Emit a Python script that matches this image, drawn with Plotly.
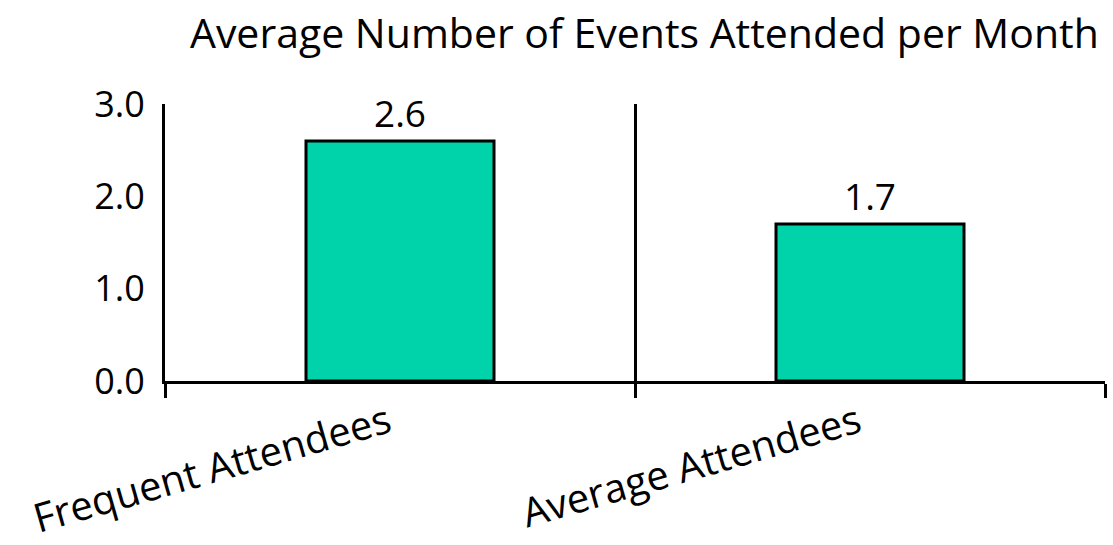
import plotly.graph_objects as go

# Monthly event attendance by attendee group
categories = ["Frequent Attendees", "Average Attendees"]
avg_events = [2.6, 1.7]
y_ticks = [0, 1, 2, 3]

FONT = "Open Sans"
BAR_COLOR = "#00D2AA"

fig = go.Figure(
    go.Bar(
        x=categories,
        y=avg_events,
        width=0.4,
        marker=dict(color=BAR_COLOR, line=dict(color="black", width=3)),
        text=[f"{v:.1f}" for v in avg_events],
        textposition="outside",
        textfont=dict(family=FONT, size=37, color="black"),
        cliponaxis=False,
    )
)

fig.update_layout(
    width=1113,
    height=545,
    margin=dict(l=165, r=8, t=104, b=164, autoexpand=False),
    paper_bgcolor="white",
    plot_bgcolor="white",
    showlegend=False,
    title=dict(
        text="Average Number of Events Attended per Month",
        font=dict(family=FONT, size=41, color="black"),
        x=0.51,
        xref="paper",
        xanchor="center",
        y=0.965,
        yref="container",
        yanchor="top",
    ),
)

fig.update_xaxes(
    type="category",
    automargin=False,
    range=[-0.5, 1.5],
    tickson="boundaries",
    ticks="outside",
    ticklen=14,
    tickwidth=3,
    tickcolor="black",
    showgrid=True,
    gridcolor="black",
    gridwidth=3,
    showline=True,
    linecolor="black",
    linewidth=3,
    tickangle=-16,
    ticklabelstandoff=0,
    ticklabelshift=-12,
    tickfont=dict(family=FONT, size=40, color="black"),
)

fig.update_yaxes(
    range=[0, 3],
    automargin=False,
    tickvals=y_ticks,
    tickformat=".1f",
    showgrid=False,
    zeroline=False,
    showline=True,
    linecolor="black",
    linewidth=3,
    ticks="",
    ticklabelstandoff=10,
    tickfont=dict(family=FONT, size=36, color="black"),
)

fig.write_html("out.html")
